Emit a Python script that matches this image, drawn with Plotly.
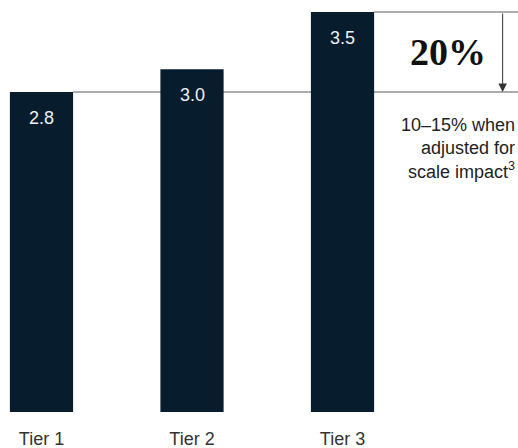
import plotly.graph_objects as go

# Chart data
tiers = ["Tier 1", "Tier 2", "Tier 3"]
values = [2.8, 3.0, 3.5]
headline = "20%"
note_text = "10–15% when<br>adjusted for<br>scale impact<sup>3</sup>"

BAR_COLOR = "#071d2e"
LINE_COLOR = "#5a5a5a"
TEXT_COLOR = "#222222"
SANS = "Liberation Sans, Arial, sans-serif"
SERIF = "Liberation Serif, Times New Roman, serif"

x = list(range(len(tiers)))
bar_w = 0.42
x_max = 3.166
y_max = 3.605

fig = go.Figure(
    go.Bar(
        x=x,
        y=values,
        width=bar_w,
        marker=dict(color=BAR_COLOR, line=dict(width=0)),
        hoverinfo="skip",
    )
)

# Value labels inside the top of each bar
for xi, v in zip(x, values):
    fig.add_annotation(
        x=xi, y=v, text=f"{v:.1f}", showarrow=False,
        yanchor="middle", yshift=-26,
        font=dict(family=SANS, size=18, color="#eef0f2"),
    )

# Reference lines at the Tier 1 and Tier 3 levels
fig.add_shape(type="line", x0=x[0] + bar_w / 2, x1=x_max, y0=values[0], y1=values[0],
              line=dict(color=LINE_COLOR, width=1), layer="below")
fig.add_shape(type="line", x0=x[2] + bar_w / 2, x1=x_max, y0=values[2], y1=values[2],
              line=dict(color=LINE_COLOR, width=1), layer="below")

# Arrow showing the gap between Tier 3 and Tier 1
arrow_x = 3.064
fig.add_annotation(
    x=arrow_x, y=values[0], ax=arrow_x, ay=values[2],
    xref="x", yref="y", axref="x", ayref="y",
    showarrow=True, arrowhead=2, arrowsize=1.7, arrowwidth=1,
    arrowcolor="#333333", standoff=0, text="",
)

fig.add_annotation(
    x=2.701, y=3.154, text=f"<b>{headline}</b>", showarrow=False,
    xanchor="center", yanchor="middle",
    font=dict(family=SERIF, size=38, color="#111111"),
)

fig.add_annotation(
    x=1, xref="paper", xshift=-1, y=2.53, text=note_text, showarrow=False,
    xanchor="right", yanchor="top", align="right",
    font=dict(family=SANS, size=18, color=TEXT_COLOR),
)
# shift so the first line sits just under the Tier 1 line
fig.layout.annotations[-1].y = 2.62

fig.update_layout(
    width=518, height=448,
    margin=dict(l=0, r=0, t=0, b=36),
    paper_bgcolor="white", plot_bgcolor="white",
    showlegend=False,
    xaxis=dict(
        range=[-0.2757, x_max], tickvals=x, ticktext=tiers,
        showgrid=False, zeroline=False, showline=False, ticks="",
        tickfont=dict(family=SANS, size=18, color="#333333"),
        ticklabelstandoff=14, fixedrange=True,
    ),
    yaxis=dict(
        range=[0, y_max], visible=False, showgrid=False, zeroline=False,
        fixedrange=True,
    ),
)

fig.write_html("out.html")
